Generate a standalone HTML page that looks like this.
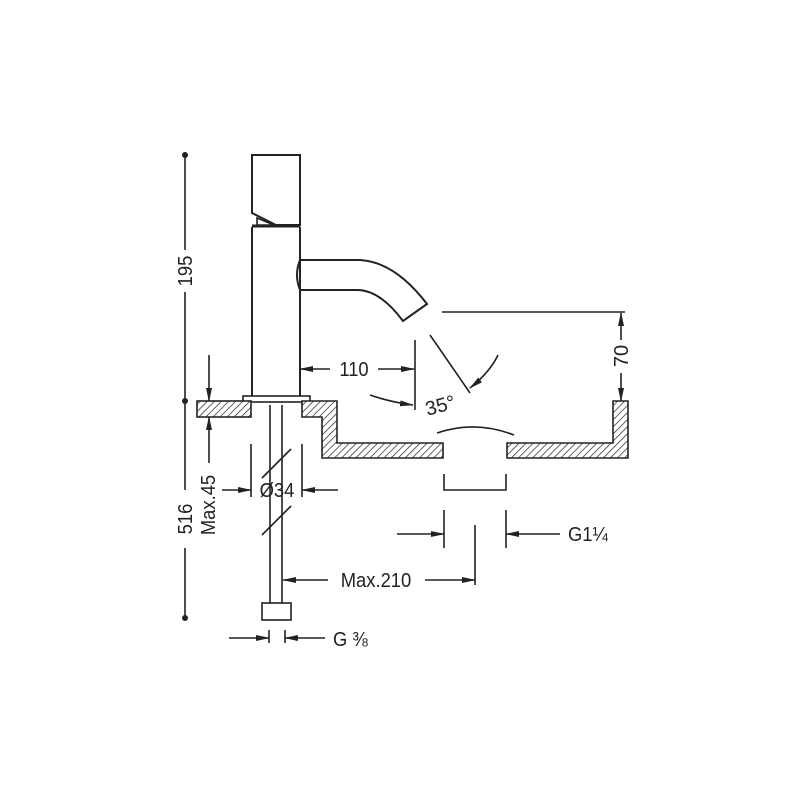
<!DOCTYPE html>
<html><head><style>body{margin:0;background:#fff}svg{display:block}text{font-family:"Liberation Sans",sans-serif;fill:#222}</style></head>
<body>
<svg width="800" height="800" viewBox="0 0 800 800" xmlns="http://www.w3.org/2000/svg">
<defs>
<pattern id="h" width="5" height="5" patternUnits="userSpaceOnUse" patternTransform="rotate(45)">
<rect width="5" height="5" fill="#fff"/><line x1="0" y1="0" x2="0" y2="5" stroke="#222" stroke-width="1.4"/></pattern>
<marker id="a" markerWidth="14" markerHeight="8" refX="13" refY="4" orient="auto" markerUnits="userSpaceOnUse"><path d="M0,1 L14,4 L0,7 Z" fill="#222"/></marker>
</defs>
<g stroke="#222" stroke-width="1.6" fill="none">
<path d="M252,213 V155 H300 V225 H276 Z" fill="#fff" stroke-width="2"/>
<path d="M257,218 V225 H274 Z"/>
<line x1="252" y1="226" x2="300" y2="226" stroke-width="3"/>
<path d="M252,227 V397 M300,227 V397" stroke-width="2"/>
<path d="M300,260 H360 Q395,262 427,304 L403,321 Q380,290 357,290 H300" stroke-width="2"/>
<path d="M300,260 Q294,275 300,290" stroke-width="2"/>
<rect x="243" y="396" width="67" height="6" fill="#fff"/>
<rect x="197" y="401" width="54" height="16" fill="url(#h)"/>
<path d="M302,401 H337 V443 H443 V458 H322 V417 H302 Z" fill="url(#h)"/>
<path d="M507,443 H613 V401 H628 V458 H507 Z" fill="url(#h)"/>
<path d="M437,433 Q475,420 514,435"/>
<path d="M444,474 V490 H506 V474"/>
<path d="M270,405 V603 M282,405 V603"/>
<rect x="262" y="603" width="29" height="17" fill="#fff"/>
<path d="M262,478 L291,449 M262,535 L291,506"/>
<line x1="185" y1="155" x2="185" y2="250"/>
<line x1="185" y1="292" x2="185" y2="401"/>
<line x1="185" y1="401" x2="185" y2="490"/>
<line x1="185" y1="548" x2="185" y2="618"/>
<line x1="209" y1="355" x2="209" y2="401" marker-end="url(#a)"/>
<line x1="209" y1="463" x2="209" y2="417" marker-end="url(#a)"/>
<path d="M251,444 V497 M302,444 V497"/>
<line x1="222" y1="490" x2="251" y2="490" marker-end="url(#a)"/>
<line x1="338" y1="490" x2="302" y2="490" marker-end="url(#a)"/>
<line x1="330" y1="369" x2="300" y2="369" marker-end="url(#a)"/>
<line x1="378" y1="369" x2="414" y2="369" marker-end="url(#a)"/>
<line x1="415" y1="340" x2="415" y2="410"/>
<path d="M370,395 Q390,402 413,405" marker-end="url(#a)"/>
<line x1="430" y1="335" x2="470" y2="393"/>
<path d="M498,355 Q490,372 470,388" marker-end="url(#a)"/>
<line x1="442" y1="312" x2="625" y2="312"/>
<line x1="621" y1="340" x2="621" y2="313" marker-end="url(#a)"/>
<line x1="621" y1="373" x2="621" y2="401" marker-end="url(#a)"/>
<path d="M444,510 V548 M506,510 V548 M475,525 V585"/>
<line x1="397" y1="534" x2="444" y2="534" marker-end="url(#a)"/>
<line x1="560" y1="534" x2="506" y2="534" marker-end="url(#a)"/>
<line x1="328" y1="580" x2="283" y2="580" marker-end="url(#a)"/>
<line x1="425" y1="580" x2="475" y2="580" marker-end="url(#a)"/>
<path d="M269,630 V643 M285,630 V643"/>
<line x1="229" y1="638" x2="269" y2="638" marker-end="url(#a)"/>
<line x1="325" y1="638" x2="285" y2="638" marker-end="url(#a)"/>
</g>
<g fill="#222"><circle cx="185" cy="155" r="3"/><circle cx="185" cy="401" r="3"/><circle cx="185" cy="618" r="3"/></g>
<g font-size="20">
<text transform="translate(192,271) rotate(-90) scale(0.92,1)" text-anchor="middle">195</text>
<text transform="translate(192,519) rotate(-90) scale(0.92,1)" text-anchor="middle">516</text>
<text transform="translate(215,505) rotate(-90) scale(0.92,1)" text-anchor="middle">Max.45</text>
<text transform="translate(277,497) scale(0.92,1)" text-anchor="middle">Ø34</text>
<text transform="translate(354,376) scale(0.92,1)" text-anchor="middle">110</text>
<text transform="translate(442,412) rotate(-15)" text-anchor="middle">35°</text>
<text transform="translate(628,356) rotate(-90)" text-anchor="middle">70</text>
<text transform="translate(568,541) scale(0.92,1)">G1¼</text>
<text transform="translate(376,587) scale(0.92,1)" text-anchor="middle">Max.210</text>
<text transform="translate(333,646) scale(0.92,1)">G ⅜</text>
</g>
</svg>
</body></html>
